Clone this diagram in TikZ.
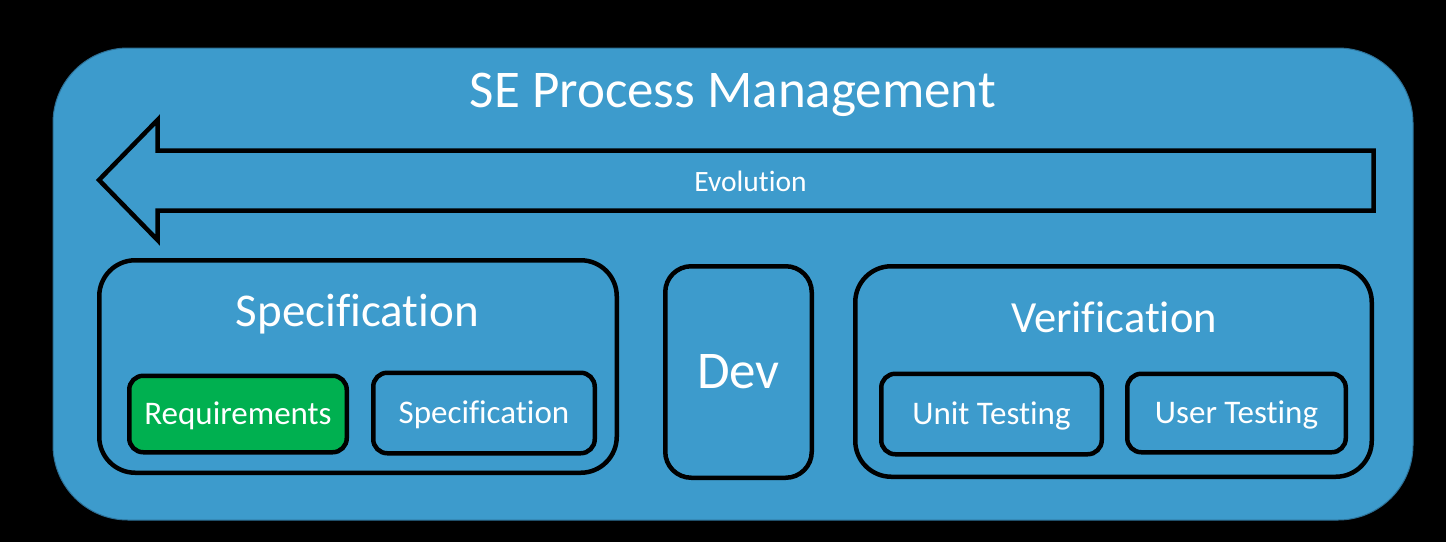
\documentclass[tikz,border=0pt]{standalone}
\usepackage{fontspec}
\setmainfont{Carlito}[Ligatures=NoCommon]
\definecolor{procblue}{RGB}{61,155,204}
\definecolor{procedge}{RGB}{45,112,150}
\definecolor{reqgreen}{RGB}{0,176,80}
\begin{document}
\begin{tikzpicture}[x=1pt,y=-1pt,
  whitetxt/.style={inner sep=0pt,text=white,anchor=base},
  groupbox/.style={draw=black,line width=4.5pt,fill=procblue,rounded corners=36pt,inner sep=0pt},
  stepbox/.style={draw=black,line width=4.5pt,fill=procblue,rounded corners=14pt,inner sep=0pt,
    text=white,text height=20.9pt,text depth=0pt,font=\fontsize{33}{36}\selectfont},
  grouptitle/.style={whitetxt,font=\fontsize{46.5}{50}\selectfont}]
 \fill[black] (0,0) rectangle (1446,542);
 \useasboundingbox (0,0) rectangle (1446,542);
 % outer frame
 \node[draw=procedge,line width=1pt,fill=procblue,rounded corners=75pt,
   minimum width=1360pt,minimum height=472pt,inner sep=0pt] (frame) at (733,284) {};
 \node[whitetxt,font=\fontsize{53}{56}\selectfont] (title) at (733,107) {SE Process Management};
 %
 \draw[line width=4.5pt,line join=miter] (1373.5,150.5) -- (157.5,150.5) -- (157.5,120)
   -- (99,180) -- (157.5,240) -- (157.5,210.5) -- (1373.5,210.5) -- cycle;
 \node[whitetxt,font=\fontsize{29.5}{32}\selectfont] (evo) at (750.5,191) {Evolution};
 %
 \node[groupbox,minimum width=517.5pt,minimum height=212.5pt] (spec) at (358,366.5) {};
 \node[grouptitle,font=\fontsize{47}{50}\selectfont] (spectitle) at (357.5,326) {Specification};
 \node[stepbox,fill=reqgreen,minimum width=217.5pt,minimum height=76.5pt] (req) at (238,414) {Requirements};
 \node[stepbox,minimum width=221.5pt,minimum height=80.5pt] (specdoc) at (484,413) {Specification};
 %
 \node[groupbox,rounded corners=26pt,minimum width=146.5pt,minimum height=211.5pt,
   text=white,text height=33.5pt,text depth=0pt,font=\fontsize{53}{56}\selectfont] (dev) at (738.5,372) {Dev};
 %
 \node[groupbox,minimum width=516.5pt,minimum height=210.5pt] (verif) at (1113.5,371.5) {};
 \node[grouptitle,font=\fontsize{44.5}{48}\selectfont] (veriftitle) at (1114,332) {Verification};
 \node[stepbox,minimum width=220.5pt,minimum height=80.5pt] (unit) at (991.5,414) {Unit Testing};
 \node[stepbox,minimum width=218.5pt,minimum height=78.5pt] (user) at (1236.5,413) {User Testing};
\end{tikzpicture}
\end{document}
